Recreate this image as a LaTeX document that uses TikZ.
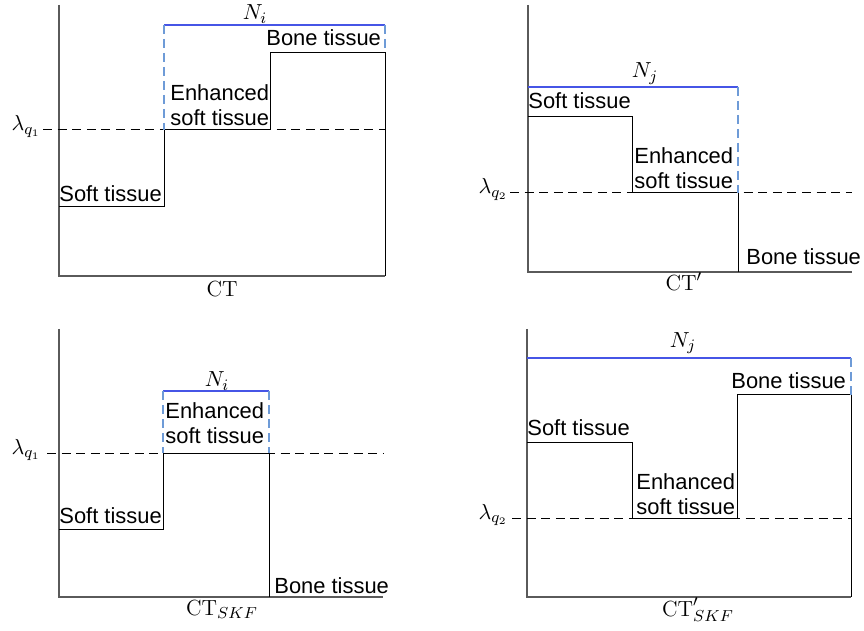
\documentclass[tikz,border=0pt]{standalone}
\usepackage{fontspec}
\newfontfamily\arialfont{Liberation Sans}
\definecolor{axisgray}{RGB}{90,90,90}
\definecolor{nblue}{RGB}{70,85,230}
\definecolor{nbluedash}{RGB}{110,155,215}
\tikzset{
  tissue/.style={font=\arialfont\fontsize{11}{12.5}\selectfont,inner sep=0pt,align=left},
  mlabel/.style={font=\fontsize{11}{13}\selectfont,inner sep=0pt},
  axisline/.style={draw=axisgray,line width=0.6bp},
  stepline/.style={draw=black,line width=0.5bp},
  thresh/.style={draw=black,line width=0.5bp,dash pattern=on 4.5bp off 2.8bp},
  nline/.style={draw=nblue,line width=0.6bp},
  nside/.style={draw=nbluedash,line width=0.6bp,dash pattern=on 4.5bp off 2.5bp}
}
\begin{document}
\begin{tikzpicture}[x=0.5bp,y=-0.5bp]
        \useasboundingbox (0,0) rectangle (864,631);

        % CT
        \draw[axisline] (59,5) -- (59,276) -- (385,276);
        \draw[stepline] (59,207) -- (164,207) -- (164,130) -- (270,130) -- (270,53) -- (385,53) -- (385,276);
        \draw[thresh] (43,130) -- (385,130);
        \draw[nline] (164,25) -- (385,25);
        \draw[nside] (164,25) -- (164,130);
        \draw[nside] (385,25) -- (385,53);
        \node[tissue,anchor=base west] (softA) at (59,202) {Soft tissue};
        \node[tissue,anchor=south west] (enhA) at (170,126) {Enhanced\\soft tissue};
        \node[tissue,anchor=base west] (boneA) at (266,46) {Bone tissue};
        \node[mlabel,anchor=base] (nA) at (255,20) {$N_i$};
        \node[mlabel,anchor=base] (ctA) at (222,297) {$\mathrm{CT}$};
        \node[mlabel,anchor=base east] (lamA) at (41,131) {$\lambda_{q_1}$};

        % CT'
        \draw[axisline] (528,5) -- (528,272) -- (852,272);
        \draw[stepline] (528,117) -- (632,117) -- (632,193) -- (738,193) -- (738,272);
        \draw[thresh] (510,193) -- (852,193);
        \draw[nline] (528,87) -- (738,87);
        \draw[nside] (738,87) -- (738,193);
        \node[tissue,anchor=base west] (softB) at (528,109) {Soft tissue};
        \node[tissue,anchor=south west] (enhB) at (634,189) {Enhanced\\soft tissue};
        \node[tissue,anchor=base west] (boneB) at (746,265) {Bone tissue};
        \node[mlabel,anchor=base] (nB) at (645,78) {$N_j$};
        \node[mlabel,anchor=base] (ctB) at (684,291) {$\mathrm{CT}'$};
        \node[mlabel,anchor=base east] (lamB) at (508,194) {$\lambda_{q_2}$};

        % CT_SKF
        \draw[axisline] (59,329) -- (59,597) -- (383,597);
        \draw[stepline] (59,529) -- (163,529) -- (163,453) -- (269,453) -- (269,597);
        \draw[thresh] (47,453) -- (383,453);
        \draw[nline] (163,391) -- (269,391);
        \draw[nside] (163,391) -- (163,453);
        \draw[nside] (269,391) -- (269,453);
        \node[tissue,anchor=base west] (softC) at (59,523) {Soft tissue};
        \node[tissue,anchor=south west] (enhC) at (165,444) {Enhanced\\soft tissue};
        \node[tissue,anchor=base west] (boneC) at (274,593) {Bone tissue};
        \node[mlabel,anchor=base] (nC) at (217,387) {$N_i$};
        \node[mlabel,anchor=base] (ctC) at (222,615) {$\mathrm{CT}_{SKF}$};
        \node[mlabel,anchor=base east] (lamC) at (41,454) {$\lambda_{q_1}$};

        % CT'_SKF
        \draw[axisline] (527,329) -- (527,597) -- (851,597);
        \draw[stepline] (527,442) -- (632,442) -- (632,518) -- (737,518) -- (737,395) -- (851,395) -- (851,597);
        \draw[thresh] (512,518) -- (851,518);
        \draw[nline] (527,358) -- (851,358);
        \draw[nside] (851,358) -- (851,395);
        \node[tissue,anchor=base west] (softD) at (527,435) {Soft tissue};
        \node[tissue,anchor=south west] (enhD) at (636,515) {Enhanced\\soft tissue};
        \node[tissue,anchor=base west] (boneD) at (731,389) {Bone tissue};
        \node[mlabel,anchor=base] (nD) at (683,347) {$N_j$};
        \node[mlabel,anchor=base] (ctD) at (698,616) {$\mathrm{CT}'_{SKF}$};
        \node[mlabel,anchor=base east] (lamD) at (508,519) {$\lambda_{q_2}$};

\end{tikzpicture}
\end{document}
